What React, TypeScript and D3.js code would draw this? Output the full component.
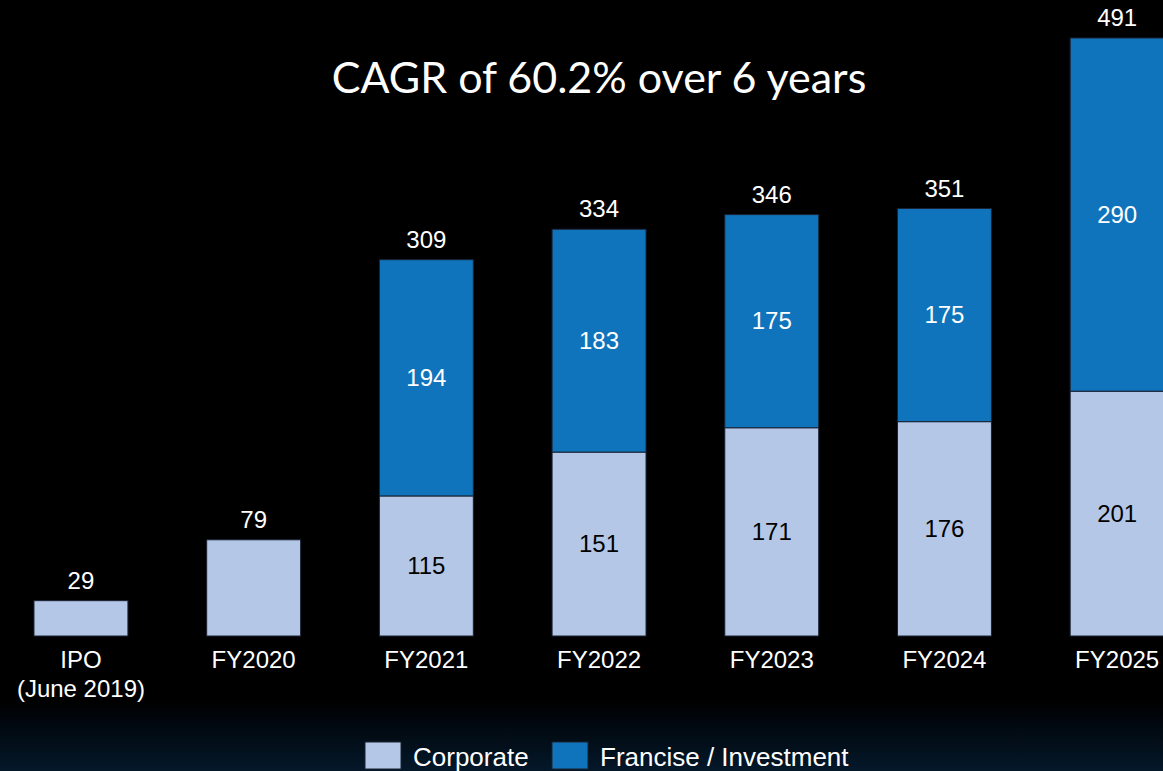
import { useEffect } from "react";
import * as d3 from "d3";

const categories = ["IPO|(June 2019)", "FY2020", "FY2021", "FY2022", "FY2023", "FY2024", "FY2025"];
const corporate = [29, 79, 115, 151, 171, 176, 201];
const franchise = [0, 0, 194, 183, 175, 175, 290];
const totals = [29, 79, 309, 334, 346, 351, 491];
const seriesNames = ["Corporate", "Francise / Investment"];

const W = 1163;
const H = 771;
const LIGHT = "#b4c7e7";
const BLUE = "#0f74bc";
const FONT = "'Liberation Sans', Arial, sans-serif";

export default function App() {
  useEffect(() => {
    document.body.style.margin = "0";
    document.body.style.background = "#000";
  }, []);

  const x = d3
    .scaleBand<string>()
    .domain(categories)
    .range([-5.4, 1203.5])
    .paddingInner(0.456)
    .paddingOuter(0.228);
  const y = d3.scaleLinear().domain([0, 491]).range([636, 38]);

  const rows = categories.map((c, i) => ({
    cat: c,
    corporate: corporate[i],
    franchise: franchise[i],
    total: totals[i],
  }));
  const stack = d3.stack<any>().keys(["corporate", "franchise"])(rows);
  const colors = [LIGHT, BLUE];

  return (
    <svg width={W} height={H} style={{ display: "block", background: "#000" }}>
      <defs>
        <linearGradient id="bg" x1="0" y1="0" x2="0" y2="1">
          <stop offset="0" stopColor="#000" />
          <stop offset="1" stopColor="#04182a" />
        </linearGradient>
      </defs>
      <rect x={0} y={0} width={W} height={H} fill="#000" />
      <rect x={0} y={700} width={W} height={71} fill="url(#bg)" />

      <text
        x={599}
        y={93}
        textAnchor="middle"
        fill="#fff"
        fontFamily="Lato, 'Open Sans', sans-serif"
        fontSize={43}
      >
        CAGR of 60.2% over 6 years
      </text>

      {stack.map((layer, li) =>
        layer.map((d, i) => {
          const v = d[1] - d[0];
          if (v <= 0) return null;
          const x0 = x(categories[i])!;
          const yt = y(d[1]);
          const yb = y(d[0]);
          return (
            <g key={`${li}-${i}`}>
              <rect
                x={x0}
                y={yt}
                width={x.bandwidth()}
                height={yb - yt}
                fill={colors[li]}
                stroke="#1a2233"
                strokeWidth={1}
              />
              {franchise[i] > 0 && (
                <text
                  x={x0 + x.bandwidth() / 2}
                  y={(yt + yb) / 2 + 8}
                  textAnchor="middle"
                  fill={li === 0 ? "#000" : "#fff"}
                  fontFamily={FONT}
                  fontSize={24}
                >
                  {v}
                </text>
              )}
            </g>
          );
        })
      )}

      {rows.map((r, i) => {
        const cx = x(r.cat)! + x.bandwidth() / 2;
        const lines = r.cat.split("|");
        return (
          <g key={r.cat}>
            <text x={cx} y={y(r.total) - 12} textAnchor="middle" fill="#fff" fontFamily={FONT} fontSize={24}>
              {r.total}
            </text>
            {lines.map((l, k) => (
              <text key={k} x={cx} y={668 + k * 29} textAnchor="middle" fill="#fff" fontFamily={FONT} fontSize={24}>
                {l}
              </text>
            ))}
          </g>
        );
      })}

      {seriesNames.map((n, i) => {
        const lx = [365, 552][i];
        return (
          <g key={n}>
            <rect x={lx} y={742} width={36} height={27} fill={colors[i]} stroke="#1a2233" strokeWidth={1} />
            <text x={lx + 48} y={766} fill="#fff" fontFamily={FONT} fontSize={26}>
              {n}
            </text>
          </g>
        );
      })}
    </svg>
  );
}
